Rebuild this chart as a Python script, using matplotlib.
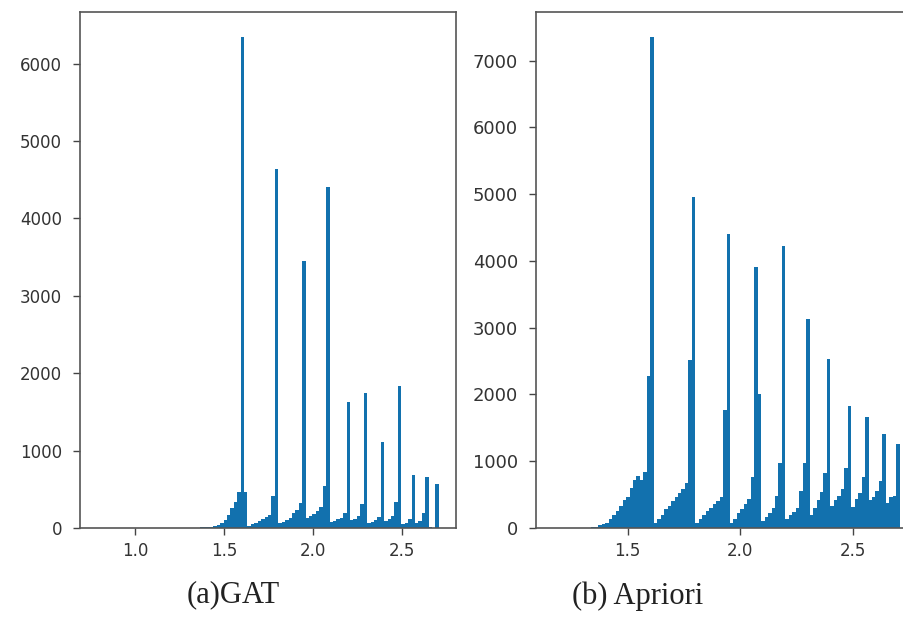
import matplotlib
matplotlib.use("Agg")
import matplotlib.pyplot as plt
import numpy as np

# histogram bins (100 bins each) and counts
gat_range = (0.788, 2.708)
gat_counts = [
    2, 0, 0, 0, 0, 0, 0, 0, 0, 0,
    0, 0, 0, 0, 0, 0, 0, 0, 0, 0,
    0, 0, 0, 0, 0, 6, 0, 0, 0, 0,
    10, 12, 15, 18, 25, 40, 60, 100, 170, 260,
    340, 470, 6350, 470, 30, 50, 70, 90, 110, 140,
    170, 410, 4640, 60, 80, 100, 130, 200, 230, 320,
    3450, 130, 150, 180, 220, 270, 540, 4400, 80, 90,
    110, 130, 190, 1625, 100, 120, 160, 310, 1750, 60,
    80, 100, 140, 1115, 90, 110, 150, 330, 1830, 50,
    60, 110, 685, 60, 90, 200, 660, 10, 5, 570,
]

apriori_range = (1.17, 2.708)
apriori_counts = [
    1, 0, 0, 0, 0, 0, 0, 0, 0, 0,
    0, 10, 20, 40, 60, 80, 130, 200, 260, 330,
    420, 460, 600, 720, 780, 720, 840, 2280, 7360, 70,
    130, 200, 280, 330, 400, 460, 520, 590, 680, 2510,
    4950, 80, 130, 190, 250, 300, 360, 410, 470, 1770,
    4410, 70, 140, 220, 290, 360, 430, 760, 3910, 2000,
    100, 160, 230, 300, 480, 980, 4220, 130, 190, 240,
    300, 560, 980, 3125, 200, 300, 420, 540, 820, 2535,
    330, 420, 480, 580, 900, 1820, 310, 440, 520, 770,
    1660, 420, 470, 550, 710, 1410, 370, 460, 480, 1265,
]

captions = ["(a)GAT", "(b) Apriori"]
gat_yticks = [0, 1000, 2000, 3000, 4000, 5000, 6000]
apriori_yticks = [0, 1000, 2000, 3000, 4000, 5000, 6000, 7000]
gat_xticks = [1.0, 1.5, 2.0, 2.5]
apriori_xticks = [1.5, 2.0, 2.5]

bar_color = "#1271ae"


def draw_hist(ax, rng, counts, xticks, yticks, fs_y):
    edges = np.linspace(rng[0], rng[1], len(counts) + 1)
    centers = (edges[:-1] + edges[1:]) / 2
    ax.hist(centers, bins=edges, weights=counts, color=bar_color)
    ax.set_xticks(xticks)
    ax.set_xticklabels(["%.1f" % t for t in xticks])
    ax.set_yticks(yticks)
    ax.tick_params(axis="x", labelsize=12, length=5, width=1, pad=5,
                   colors="#444444", labelcolor="#333333")
    ax.tick_params(axis="y", labelsize=fs_y, length=5, width=1, pad=8,
                   colors="#444444", labelcolor="#333333")
    for s in ax.spines.values():
        s.set_color("#555555")
        s.set_linewidth(1.2)


fig = plt.figure(figsize=(9.04, 6.25), dpi=100)
ax1 = fig.add_axes([80 / 904, 1 - 528 / 625, 376 / 904, 516 / 625])
ax2 = fig.add_axes([536 / 904, 1 - 528 / 625, 381 / 904, 516 / 625])

draw_hist(ax1, gat_range, gat_counts, gat_xticks, gat_yticks, 12)
draw_hist(ax2, apriori_range, apriori_counts, apriori_xticks, apriori_yticks, 13)

fig.text(233 / 904, 1 - 595 / 625, captions[0], ha="center", va="center",
         fontsize=22, family="Liberation Serif", color="#222222")
fig.text(638 / 904, 1 - 596 / 625, captions[1], ha="center", va="center",
         fontsize=22, family="Liberation Serif", color="#222222")

fig.savefig("out.png", dpi=100)
